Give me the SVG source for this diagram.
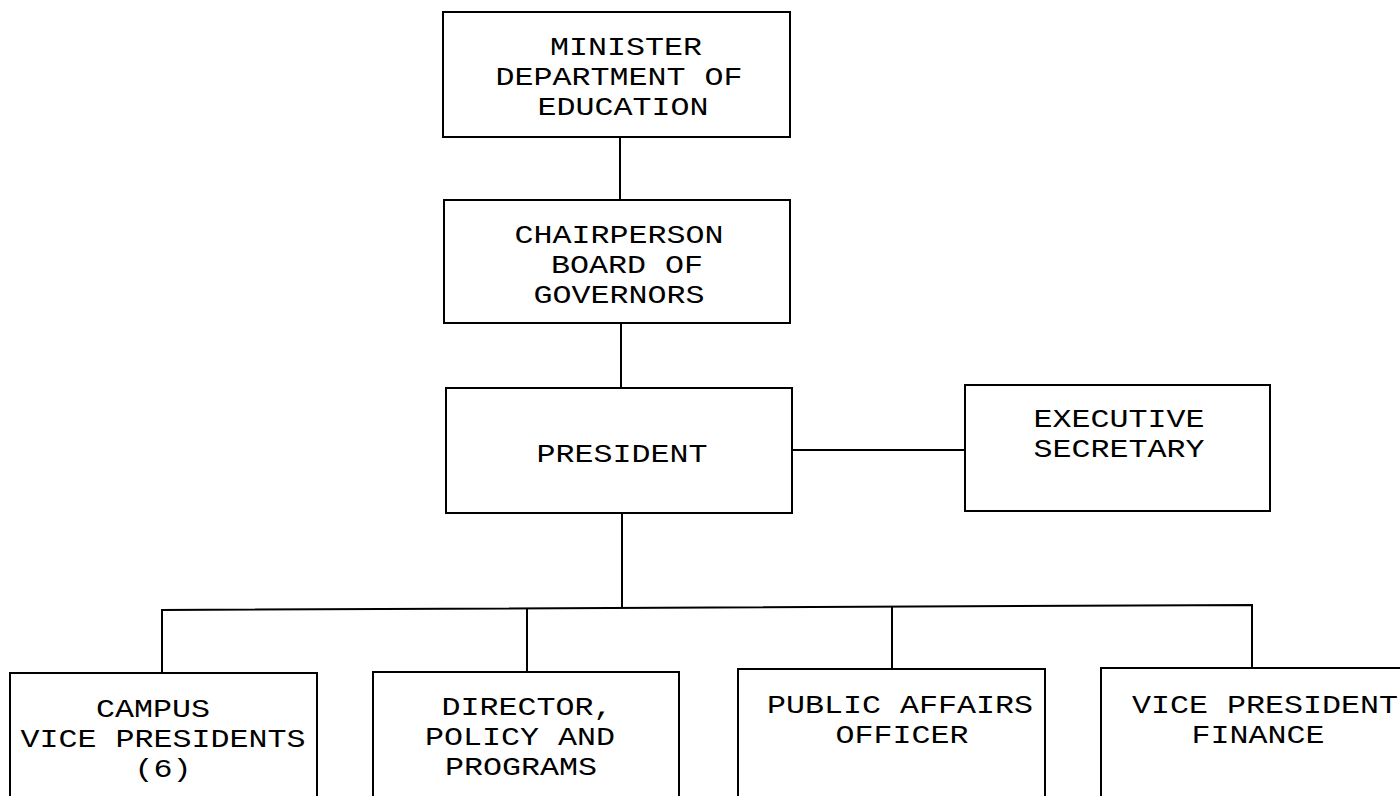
<svg xmlns="http://www.w3.org/2000/svg" width="1400" height="796" viewBox="0 0 1400 796">
<style>
.box{fill:#fff;stroke:#000;stroke-width:2}
.ln{fill:none;stroke:#000;stroke-width:2}
text{font-family:"Liberation Mono","DejaVu Sans Mono",monospace;font-size:26px;fill:#000;text-anchor:middle}
</style>
<rect width="1400" height="796" fill="#fff"/>
<g id="connectors">
<line class="ln" x1="620" y1="137" x2="620" y2="200"/>
<line class="ln" x1="621" y1="323" x2="621" y2="388"/>
<line class="ln" x1="792" y1="450" x2="965" y2="450"/>
<line class="ln" x1="622" y1="513" x2="622" y2="608"/>
<polyline class="ln" points="162,673 162,610 1252,605 1252,668"/>
<line class="ln" x1="527" y1="609" x2="527" y2="672"/>
<line class="ln" x1="892" y1="607" x2="892" y2="669"/>
</g>
<g id="minister">
<rect class="box" x="443" y="12" width="347" height="125"/>
<text x="626" y="55" textLength="152" lengthAdjust="spacingAndGlyphs">MINISTER</text>
<text x="619" y="85" textLength="247" lengthAdjust="spacingAndGlyphs">DEPARTMENT OF</text>
<text x="623" y="115" textLength="171" lengthAdjust="spacingAndGlyphs">EDUCATION</text>
</g>
<g id="chairperson">
<rect class="box" x="444" y="200" width="346" height="123"/>
<text x="619" y="243" textLength="209" lengthAdjust="spacingAndGlyphs">CHAIRPERSON</text>
<text x="627" y="273" textLength="152" lengthAdjust="spacingAndGlyphs">BOARD OF</text>
<text x="619" y="303" textLength="171" lengthAdjust="spacingAndGlyphs">GOVERNORS</text>
</g>
<g id="president">
<rect class="box" x="446" y="388" width="346" height="125"/>
<text x="622" y="462" textLength="171" lengthAdjust="spacingAndGlyphs">PRESIDENT</text>
</g>
<g id="executive-secretary">
<rect class="box" x="965" y="385" width="305" height="126"/>
<text x="1119" y="427" textLength="171" lengthAdjust="spacingAndGlyphs">EXECUTIVE</text>
<text x="1119" y="457" textLength="171" lengthAdjust="spacingAndGlyphs">SECRETARY</text>
</g>
<g id="campus-vp">
<rect class="box" x="10" y="673" width="307" height="140"/>
<text x="153" y="717" textLength="114" lengthAdjust="spacingAndGlyphs">CAMPUS</text>
<text x="163" y="747" textLength="285" lengthAdjust="spacingAndGlyphs">VICE PRESIDENTS</text>
<text x="163" y="777" textLength="57" lengthAdjust="spacingAndGlyphs">(6)</text>
</g>
<g id="director-policy">
<rect class="box" x="373" y="672" width="306" height="140"/>
<text x="527" y="715" textLength="171" lengthAdjust="spacingAndGlyphs">DIRECTOR,</text>
<text x="520" y="745" textLength="190" lengthAdjust="spacingAndGlyphs">POLICY AND</text>
<text x="521" y="775" textLength="152" lengthAdjust="spacingAndGlyphs">PROGRAMS</text>
</g>
<g id="public-affairs">
<rect class="box" x="738" y="669" width="307" height="140"/>
<text x="900" y="713" textLength="266" lengthAdjust="spacingAndGlyphs">PUBLIC AFFAIRS</text>
<text x="902" y="743" textLength="133" lengthAdjust="spacingAndGlyphs">OFFICER</text>
</g>
<g id="vp-finance">
<rect class="box" x="1101" y="668" width="320" height="140"/>
<text x="1265" y="713" textLength="266" lengthAdjust="spacingAndGlyphs">VICE PRESIDENT</text>
<text x="1258" y="743" textLength="133" lengthAdjust="spacingAndGlyphs">FINANCE</text>
</g>
</svg>
